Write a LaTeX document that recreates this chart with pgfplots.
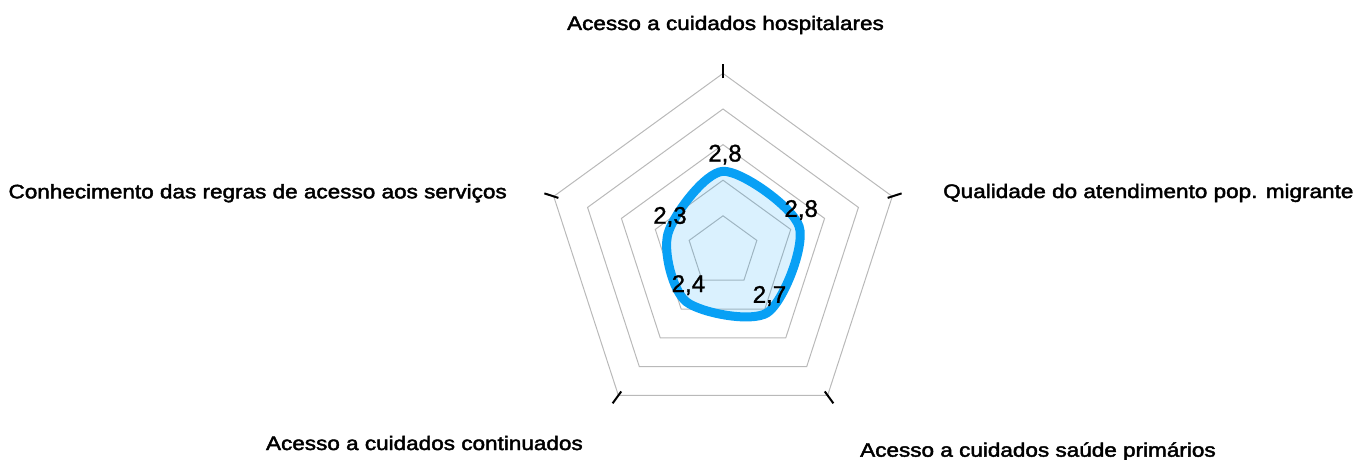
\documentclass[border=0pt]{standalone}
\usepackage{fontspec}
\setmainfont{Liberation Sans}
\newfontfamily\catfont[FakeStretch=1.155, FakeBold=2.2]{Liberation Sans}
\newfontfamily\numfont[FakeBold=1.2]{Liberation Sans}
\usepackage{pgfplots}
\usepackage{pgfplotstable}
\pgfplotsset{compat=1.18}
\usepgfplotslibrary{polar}
\definecolor{radarblue}{RGB}{8,160,245}
\definecolor{gridgray}{RGB}{185,185,185}

\pgfplotstableread{
angle value label
90 2.8 {2,8}
18 2.8 {2,8}
306 2.7 {2,7}
234 2.4 {2,4}
162 2.3 {2,3}
}\radardata

\begin{document}
\begin{tikzpicture}
\useasboundingbox (0,0) rectangle (1357pt,459pt);
\begin{polaraxis}[
  at={(723pt,207.6pt)}, anchor=center,
  width=356pt, height=356pt, scale only axis,
  xmin=0, xmax=360, ymin=0, ymax=4,
  hide axis, clip=false,
  y filter/.expression={y-1},
]
% grid rings (value 1.8, 2.6, 3.4, 4.2, 5.0)
\pgfplotsinvokeforeach{1.8,2.6,3.4,4.2,5.0}{
  \addplot[gridgray, line width=1pt, line join=miter, mark=none]
    coordinates {(90,#1) (18,#1) (306,#1) (234,#1) (162,#1) (90,#1) (18,#1)};
}
% data
\addplot[draw=radarblue, line width=9pt, fill=radarblue, fill opacity=0.15,
  mark=none, smooth cycle, tension=0.5]
  table[x=angle, y=value] {\radardata};
% outer ticks
\pgfplotsinvokeforeach{90,18,306,234,162}{
  \addplot[black, line width=2pt, mark=none] coordinates {(#1,4.89) (#1,5.22)};
}
% value labels
\addplot[draw=none, mark=none, nodes near coords, point meta=explicit symbolic,
  nodes near coords style={anchor=base, xshift=2pt, yshift=9.8pt, text=black,
    font=\numfont\fontsize{24}{24}\selectfont}]
  table[x=angle, y=value, meta=label] {\radardata};
\end{polaraxis}
\begin{scope}[every node/.style={inner sep=0pt, font=\catfont\fontsize{19.5}{20}\selectfont}]
\node[anchor=base] at (725.5pt,429pt) {Acesso a cuidados hospitalares};
\node[anchor=base west] at (943pt,261pt) {Qualidade do atendimento pop. migrante};
\node[anchor=base west] at (860pt,2.3pt) {Acesso a cuidados saúde primários};
\node[anchor=base east] at (583pt,9pt) {Acesso a cuidados continuados};
\node[anchor=base east] at (507pt,260.7pt) {Conhecimento das regras de acesso aos serviços};
\end{scope}
\end{tikzpicture}
\end{document}
